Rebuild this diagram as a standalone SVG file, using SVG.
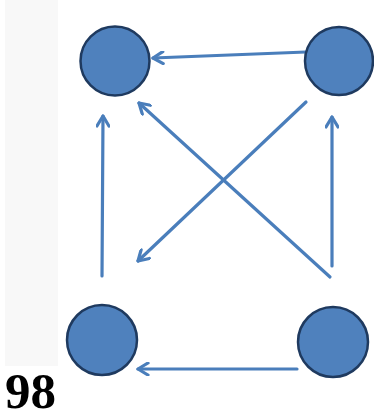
<svg xmlns="http://www.w3.org/2000/svg" width="374" height="419" viewBox="0 0 374 419">
<defs>
<style>
.node{fill:#4f81bd;stroke:#1f3a5f;stroke-width:2.5}
.edge{stroke:#4a7ebb;stroke-width:3.2;fill:none;stroke-linecap:round}
.lbl{font-family:"Liberation Serif",serif;font-weight:bold;font-size:51px;fill:#000}
</style>
<marker id="ah" viewBox="0 0 14 14" refX="12" refY="7" markerWidth="14" markerHeight="14" markerUnits="userSpaceOnUse" orient="auto">
<path d="M2,1 L12,7 L2,13" fill="none" stroke="#4a7ebb" stroke-width="3.2" stroke-linecap="round" stroke-linejoin="round"/>
</marker>
</defs>
<rect x="0" y="0" width="374" height="419" fill="#fff"/>
<rect x="5" y="0" width="53" height="366" fill="#f8f8f8"/>
<g id="edges">
<line class="edge" x1="306" y1="52" x2="153" y2="58" marker-end="url(#ah)"/>
<line class="edge" x1="297" y1="369" x2="138" y2="369" marker-end="url(#ah)"/>
<line class="edge" x1="102" y1="276" x2="103" y2="116" marker-end="url(#ah)"/>
<line class="edge" x1="332" y1="266" x2="332" y2="117" marker-end="url(#ah)"/>
<line class="edge" x1="330" y1="277" x2="139" y2="103" marker-end="url(#ah)"/>
<line class="edge" x1="306" y1="102" x2="138" y2="261" marker-end="url(#ah)"/>
</g>
<g id="n1"><circle class="node" cx="115" cy="61" r="34.5"/></g>
<g id="n2"><circle class="node" cx="339" cy="61" r="34"/></g>
<g id="n3"><circle class="node" cx="102" cy="340" r="35"/></g>
<g id="n4"><circle class="node" cx="333" cy="342" r="35"/></g>
<text class="lbl" x="5" y="408">98</text>
</svg>
